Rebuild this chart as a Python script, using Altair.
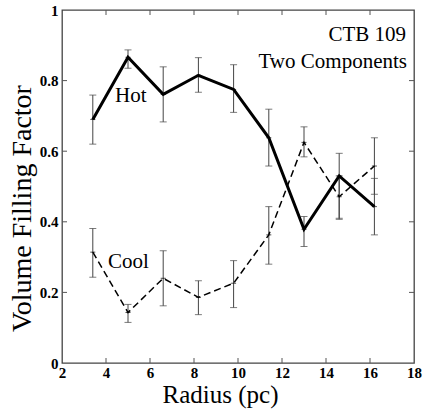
import altair as alt
import pandas as pd

radius = [3.4, 5.0, 6.6, 8.2, 9.8, 11.4, 13.0, 14.6, 16.2]
hot = [0.69, 0.866, 0.761, 0.815, 0.775, 0.638, 0.379, 0.53, 0.443]
hot_lo = [0.62, 0.835, 0.683, 0.767, 0.71, 0.558, 0.33, 0.407, 0.363]
hot_hi = [0.759, 0.887, 0.839, 0.865, 0.845, 0.719, 0.415, 0.594, 0.523]
cool = [0.314, 0.143, 0.24, 0.186, 0.226, 0.363, 0.625, 0.471, 0.558]
cool_lo = [0.243, 0.115, 0.162, 0.137, 0.157, 0.28, 0.584, 0.41, 0.478]
cool_hi = [0.381, 0.166, 0.318, 0.233, 0.29, 0.443, 0.669, 0.53, 0.638]

x_ticks = [2, 4, 6, 8, 10, 12, 14, 16, 18]
y_ticks = [0, 0.2, 0.4, 0.6, 0.8, 1]
x_inner = [4, 6, 8, 10, 12, 14, 16]
y_inner = [0.2, 0.4, 0.6, 0.8]

ann_text = ["CTB 109", "Two Components"]
ann_x = [17.64, 17.68]
ann_y = [0.912, 0.836]
lab_text = ["Hot", "Cool"]
lab_x = [4.41, 4.09]
lab_y = [0.739, 0.269]

W, H = 352, 353
FONT = "Liberation Serif"

hot_df = pd.DataFrame({"r": radius, "v": hot, "lo": hot_lo, "hi": hot_hi})
cool_df = pd.DataFrame({"r": radius, "v": cool, "lo": cool_lo, "hi": cool_hi})

xs = alt.Scale(domain=[2, 18], nice=False, zero=False)
ys = alt.Scale(domain=[0, 1], nice=False)

xaxis = alt.Axis(values=x_ticks, format="d", title="Radius (pc)")
yaxis = alt.Axis(values=y_ticks, format=".1~f", title="Volume Filling Factor")

X = alt.X("r:Q", scale=xs, axis=xaxis)
Y = alt.Y("v:Q", scale=ys, axis=yaxis)

ERR_COL = "#444444"

def errs(df):
    base = alt.Chart(df)
    bars = base.mark_rule(color=ERR_COL, strokeWidth=1).encode(
        x=alt.X("r:Q", scale=xs, axis=xaxis), y=alt.Y("lo:Q", scale=ys, axis=yaxis), y2="hi:Q")
    cap_lo = base.mark_tick(orient="horizontal", size=7, thickness=1, color=ERR_COL).encode(
        x=alt.X("r:Q", scale=xs, axis=xaxis), y=alt.Y("lo:Q", scale=ys, axis=yaxis))
    cap_hi = base.mark_tick(orient="horizontal", size=7, thickness=1, color=ERR_COL).encode(
        x=alt.X("r:Q", scale=xs, axis=xaxis), y=alt.Y("hi:Q", scale=ys, axis=yaxis))
    pts = base.mark_tick(orient="horizontal", size=5, thickness=1, color="black").encode(
        x=alt.X("r:Q", scale=xs, axis=xaxis), y=alt.Y("v:Q", scale=ys, axis=yaxis))
    return bars + cap_lo + cap_hi + pts

hot_line = alt.Chart(hot_df).mark_line(color="black", strokeWidth=3).encode(x=X, y=Y)
cool_line = alt.Chart(cool_df).mark_line(color="black", strokeWidth=1.5,
                                         strokeDash=[7, 4]).encode(x=X, y=Y)

xt = pd.DataFrame({"t": x_inner})
yt = pd.DataFrame({"t": y_inner})
tick_col = "#555555"
XT = alt.X("t:Q", scale=xs, axis=xaxis)
YT = alt.Y("t:Q", scale=ys, axis=yaxis)
xt_bot = alt.Chart(xt).mark_rule(color=tick_col).encode(
    x=XT, y=alt.value(H), y2=alt.value(H - 5))
xt_top = alt.Chart(xt).mark_rule(color=tick_col).encode(
    x=XT, y=alt.value(0), y2=alt.value(5))
yt_left = alt.Chart(yt).mark_rule(color=tick_col).encode(
    y=YT, x=alt.value(0), x2=alt.value(5))
yt_right = alt.Chart(yt).mark_rule(color=tick_col).encode(
    y=YT, x=alt.value(W), x2=alt.value(W - 5))

ann_df = pd.DataFrame({"t": ann_text, "x": ann_x, "y": ann_y})
ann = alt.Chart(ann_df).mark_text(font=FONT, fontSize=21, align="right",
                                   baseline="alphabetic", color="black").encode(
    x=alt.X("x:Q", scale=xs, axis=xaxis), y=alt.Y("y:Q", scale=ys, axis=yaxis), text="t:N")
lab_df = pd.DataFrame({"t": lab_text, "x": lab_x, "y": lab_y})
labs = alt.Chart(lab_df).mark_text(font=FONT, fontSize=21, align="left",
                                   baseline="alphabetic", color="black").encode(
    x=alt.X("x:Q", scale=xs, axis=xaxis), y=alt.Y("y:Q", scale=ys, axis=yaxis), text="t:N")

chart = alt.layer(
    xt_bot, xt_top, yt_left, yt_right,
    errs(hot_df), errs(cool_df), cool_line, hot_line, ann, labs
).properties(
    width=W, height=H,
    autosize=alt.AutoSizeParams(type="none"),
    padding={"left": 62, "top": 10, "right": 10, "bottom": 46},
    background="white",
).configure_view(
    stroke="#444444", strokeWidth=1.3
).configure_axis(
    grid=False, domain=False, ticks=False,
    labelFont=FONT, labelFontSize=15, labelFontWeight="bold", labelColor="black",
    labelFlush=False, labelOverlap=False,
    titleFont=FONT, titleFontWeight="normal", titleColor="black",
).configure_axisX(
    labelPadding=2, titleFontSize=25, titleX=158, titleY=39, titleBaseline="alphabetic",
).configure_axisY(
    labelPadding=4, titleFontSize=28, titleX=-40, titleY=198, titleAngle=-90,
    titleBaseline="middle", titleAlign="center",
)

chart.save("out.html", embed_options={"renderer": "svg", "actions": False})
